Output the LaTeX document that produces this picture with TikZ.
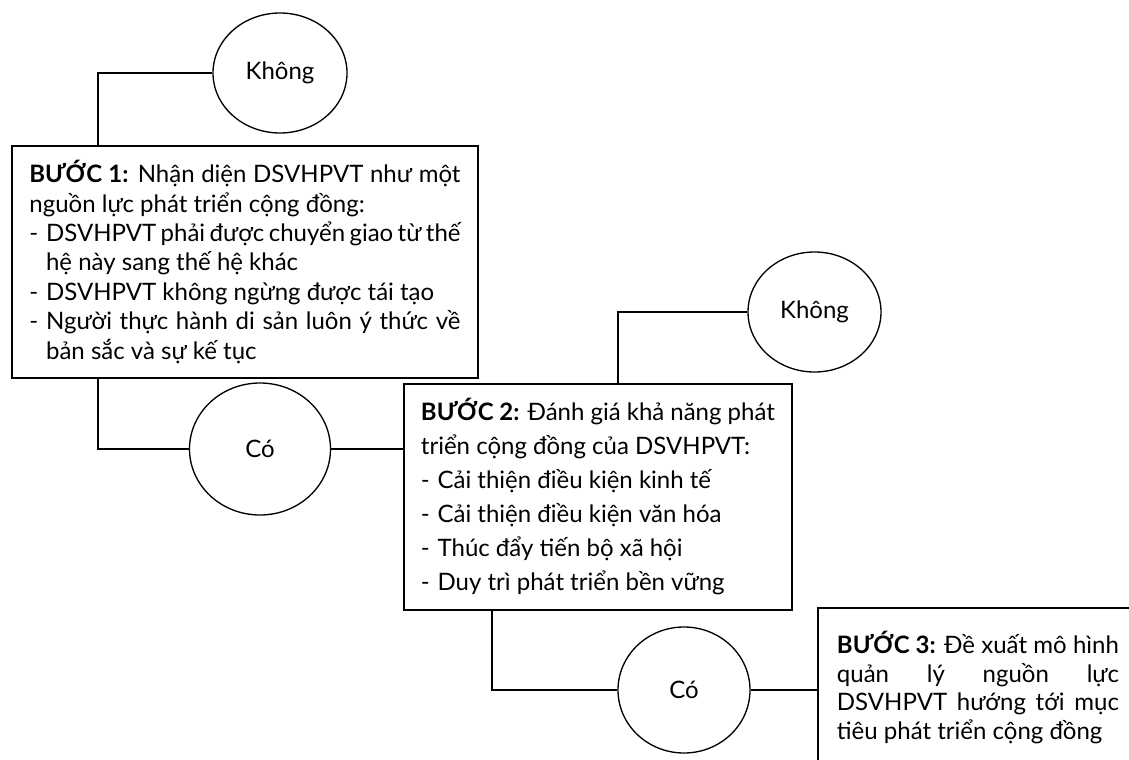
\documentclass[tikz,border=0pt]{standalone}
\usepackage{fontspec}
\setmainfont{Lato}
\usetikzlibrary{shapes.geometric,calc}
\newlength\dashw
\setlength\dashw{12.5pt}
\newcommand\myitem{\par\hangindent=\dashw\hangafter=1 \makebox[\dashw][l]{-}}
\begin{document}
\begin{tikzpicture}[x=0.75pt,y=-0.75pt,
  conn/.style={draw, line width=1pt},
  stepbox/.style={draw, line width=1.4pt, anchor=north west, align=justify, inner ysep=0pt,
    execute at begin node={\hyphenpenalty=10000\exhyphenpenalty=10000\tolerance=10000}},
  oval/.style={draw, ellipse, line width=1pt, inner sep=0pt, font=\fontsize{18}{20}\selectfont}]
\useasboundingbox (0,0) rectangle (1129,760);

\node[oval, minimum width=100.5pt, minimum height=90pt] (k1) at (280,73) {Không};
\node[oval, minimum width=105.75pt, minimum height=99pt] (c1) at (260,449) {Có};
\node[oval, minimum width=99.75pt, minimum height=90pt] (k2) at (814.5,312) {Không};
\node[oval, minimum width=99pt, minimum height=94.5pt] (c2) at (684,690) {Có};

\node[stepbox, text width=323.25pt, inner xsep=13.125pt, minimum height=174pt,
  font=\fontsize{18}{22.1}\selectfont] (b1) at (11,145)
  {\textbf{BƯỚC 1:} Nhận diện DSVHPVT như một\linebreak nguồn lực phát triển cộng đồng:%
   \myitem DSVHPVT phải được chuyển giao từ thế\linebreak hệ này sang thế hệ khác%
   \myitem DSVHPVT không ngừng được tái tạo%
   \myitem Người thực hành di sản luôn ý thức về\linebreak bản sắc và sự kế tục\par};

\node[stepbox, text width=265.5pt, inner xsep=12.75pt, minimum height=169.5pt,
  font=\fontsize{18}{25.5}\selectfont] (b2) at (403,383)
  {\textbf{BƯỚC 2:} Đánh giá khả năng phát\linebreak triển cộng đồng của DSVHPVT:%
   \myitem Cải thiện điều kiện kinh tế%
   \myitem Cải thiện điều kiện văn hóa%
   \myitem Thúc đẩy tiến bộ xã hội%
   \myitem Duy trì phát triển bền vững\par};

\node[stepbox, text width=211.5pt, inner xsep=14.25pt, minimum height=119.25pt,
  font=\fontsize{18}{21.4}\selectfont] (b3) at (817,607)
  {\textbf{BƯỚC 3:} Đề xuất mô hình\linebreak quản lý nguồn lực\linebreak DSVHPVT hướng tới mục\linebreak tiêu phát triển cộng đồng\par};

\draw[conn] (k1.west) -| ($(b1.north west)+(87,0)$);
\draw[conn] ($(b1.south west)+(87,0)$) |- (c1.west);
\draw[conn] (c1.east) -- (c1.east -| b2.west);
\draw[conn] (k2.west) -| ($(b2.north west)+(215,0)$);
\draw[conn] ($(b2.south west)+(89,0)$) |- (c2.west);
\draw[conn] (c2.east) -- (c2.east -| b3.west);
\end{tikzpicture}
\end{document}
